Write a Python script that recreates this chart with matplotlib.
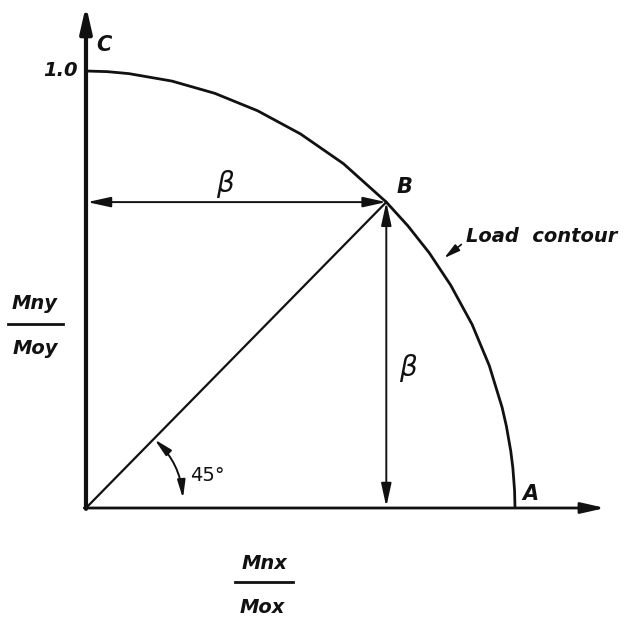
import matplotlib
matplotlib.use("Agg")
import matplotlib.pyplot as plt
from matplotlib.patches import FancyArrowPatch

# interaction diagram for biaxial bending: load contour through A, B, C
beta = 0.70
contour_x = [0.0, 0.05, 0.1, 0.2, 0.3, 0.4, 0.5, 0.6, 0.7, 0.75, 0.8, 0.85,
             0.9, 0.94, 0.97, 0.98, 0.99, 0.995, 0.999, 1.0]
contour_y = [1.0, 0.9985, 0.994, 0.977, 0.949, 0.909, 0.856, 0.788, 0.700, 0.646,
             0.584, 0.510, 0.420, 0.326, 0.230, 0.187, 0.131, 0.092, 0.040, 0.0]
axis_ends = (1.21, 1.15)   # x-axis tip, y-axis tip
angle_label = "45°"

fig = plt.figure(figsize=(6.25, 6.23), dpi=100)
ax = fig.add_axes([86 / 625, 115 / 623, 429 / 625, 437 / 623])
ax.set_xlim(0, 1)
ax.set_ylim(0, 1)
ax.axis("off")

ink = "#111111"
head = "-|>,head_length=1.1,head_width=0.25"

# axes
ax.annotate("", xy=(0, axis_ends[1]), xytext=(0, -0.002),
            arrowprops=dict(arrowstyle=head, lw=3, color=ink, shrinkA=0, shrinkB=0,
                            mutation_scale=14), annotation_clip=False)
ax.annotate("", xy=(axis_ends[0], 0), xytext=(-0.004, 0),
            arrowprops=dict(arrowstyle=head, lw=2, color=ink, shrinkA=0, shrinkB=0,
                            mutation_scale=13), annotation_clip=False)

# load contour
ax.plot(contour_x, contour_y, color=ink, lw=2, solid_capstyle="butt", clip_on=False)

# radial line at 45 deg through B
ax.plot([0, beta], [0, beta], color=ink, lw=1.6)

# beta dimension arrows
dbl = "<|-|>,head_length=1.0,head_width=0.22"
ax.annotate("", xy=(beta, beta), xytext=(0.003, beta),
            arrowprops=dict(arrowstyle=dbl, lw=1.4, color=ink, shrinkA=0, shrinkB=0,
                            mutation_scale=14))
ax.annotate("", xy=(beta, beta), xytext=(beta, 0.003),
            arrowprops=dict(arrowstyle=dbl, lw=1.4, color=ink, shrinkA=0, shrinkB=0,
                            mutation_scale=14))

# 45 degree arc
r = 0.226
arc = FancyArrowPatch((r, 0.022), (r * 0.7071, r * 0.7071 * 429 / 437),
                      connectionstyle="arc3,rad=0.19",
                      arrowstyle="<|-|>,head_length=0.9,head_width=0.2",
                      lw=1.4, color=ink, mutation_scale=12, shrinkA=0, shrinkB=0)
ax.add_patch(arc)
ax.text(r + 0.016, 0.075, angle_label, fontsize=14, color=ink, ha="left", va="center")

# pointer to the contour
ax.annotate("", xy=(0.835, 0.572), xytext=(0.875, 0.603),
            arrowprops=dict(arrowstyle="-|>,head_length=0.8,head_width=0.2", lw=1.2,
                            color=ink, shrinkA=0, shrinkB=0, mutation_scale=12))
ax.text(0.885, 0.622, "Load  contour", fontsize=14, style="italic", weight="bold",
        color=ink, ha="left", va="center")

# point labels
lab = dict(fontsize=15, style="italic", weight="bold", color=ink, ha="center", va="center")
ax.text(0.042, 1.06, "C", **lab)
ax.text(0.742, 0.734, "B", **lab)
ax.text(1.037, 0.032, "A", **lab)
ax.text(-0.018, 1.0, "1.0", fontsize=14, style="italic", weight="bold", color=ink,
        ha="right", va="center")

# beta labels
ax.text(0.325, 0.742, r"$\beta$", fontsize=20, color=ink, ha="center", va="center")
ax.text(0.752, 0.32, r"$\beta$", fontsize=20, color=ink, ha="center", va="center")

# axis labels as fractions
fr = dict(fontsize=14, style="italic", weight="bold", color=ink, ha="center", va="center")
ax.text(-0.119, 0.469, "Mny", **fr)
ax.plot([-0.182, -0.054], [0.421, 0.421], color=ink, lw=2, clip_on=False)
ax.text(-0.119, 0.366, "Moy", **fr)

ax.text(0.415, -0.128, "Mnx", **fr)
ax.plot([0.348, 0.483], [-0.169, -0.169], color=ink, lw=2, clip_on=False)
ax.text(0.41, -0.227, "Mox", **fr)

fig.savefig("out.png", dpi=100, facecolor="white")
